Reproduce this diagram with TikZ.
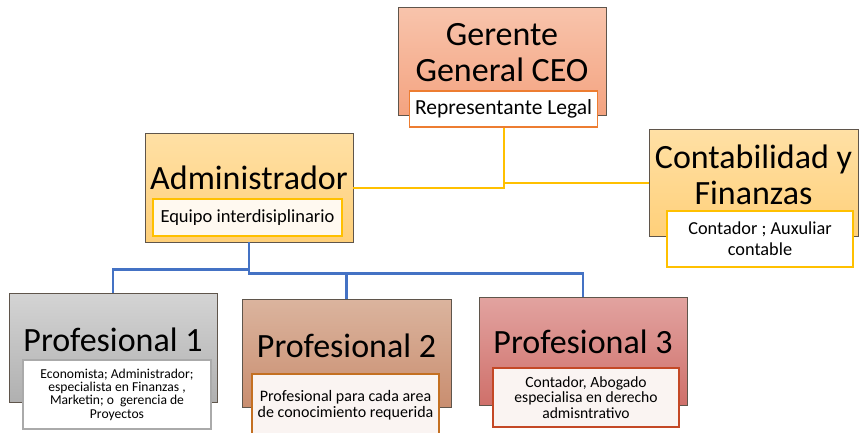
\documentclass[tikz,border=0pt]{standalone}
\usepackage{fontspec}
\setmainfont{Carlito}
\usetikzlibrary{calc}

\definecolor{boxline}{RGB}{95,85,75}
\definecolor{ceotop}{RGB}{248,196,172}
\definecolor{ceobot}{RGB}{244,163,128}
\definecolor{admtop}{RGB}{255,224,165}
\definecolor{admbot}{RGB}{255,208,122}
\definecolor{gristop}{RGB}{212,212,212}
\definecolor{gribot}{RGB}{176,176,176}
\definecolor{martop}{RGB}{219,180,158}
\definecolor{marbot}{RGB}{201,142,112}
\definecolor{rojtop}{RGB}{226,163,160}
\definecolor{rojbot}{RGB}{207,112,106}
\definecolor{linkyel}{RGB}{255,192,0}
\definecolor{linkblu}{RGB}{68,114,196}
\definecolor{tagorange}{RGB}{237,125,49}
\definecolor{taggray}{RGB}{170,170,170}
\definecolor{tagbrown}{RGB}{196,112,34}
\definecolor{tagred}{RGB}{196,72,38}
\definecolor{cream}{RGB}{255,249,240}
\definecolor{blush}{RGB}{250,244,242}

\begin{document}
\begin{tikzpicture}[x=1pt, y=-1pt]
\tikzstyle{box}=[draw=boxline, line width=0.8pt, inner sep=0pt]
\tikzstyle{tag}=[draw, line width=1.3pt, inner sep=0pt, align=center, text=black]
\tikzstyle{title}=[align=center, inner sep=0pt, font=\fontsize{34}{36}\selectfont]
\tikzstyle{yel}=[draw=linkyel, line width=2pt]
\tikzstyle{blu}=[draw=linkblu, line width=2.6pt]
\useasboundingbox (0,0) rectangle (859,432);

% cajas
\node[box, top color=ceotop, bottom color=ceobot, minimum width=208, minimum height=108] (ceo) at (502,61) {};
\node[box, top color=admtop, bottom color=admbot, minimum width=208, minimum height=109] (admin) at (249,187.5) {};
\node[box, top color=admtop, bottom color=admbot, minimum width=209, minimum height=107] (conta) at (753.5,182.5) {};
\node[box, top color=gristop, bottom color=gribot, minimum width=208, minimum height=109] (p1) at (113,347.5) {};
\node[box, top color=martop, bottom color=marbot, minimum width=209, minimum height=108] (p2) at (346.5,353) {};
\node[box, top color=rojtop, bottom color=rojbot, minimum width=208, minimum height=108] (p3) at (583,351) {};

% titulos
\node[title] (ceot) at (502,53) {Gerente\\General CEO};
\node[title] (admint) at (249,178) {Administrador};
\node[title] (contat) at (753.5,175) {Contabilidad y\\Finanzas};
\node[title] (p1t) at (113,340) {Profesional 1};
\node[title] (p2t) at (346.5,346) {Profesional 2};
\node[title] (p3t) at (583,342) {Profesional 3};

% etiquetas
\node[tag, draw=tagorange, fill=white, minimum width=188, minimum height=36, font=\fontsize{21.5}{23}\selectfont] (ceotag) at (503.5,109) {Representante Legal};
\node[tag, draw=linkyel, fill=cream, minimum width=189, minimum height=37, font=\fontsize{18.5}{20}\selectfont] (admintag) at (247.5,217.5) {Equipo interdisiplinario};
\node[tag, draw=linkyel, fill=white, minimum width=186, minimum height=56, font=\fontsize{18.3}{21}\selectfont] (contatag) at (760,239) {Contador ; Auxuliar\\contable};
\node[tag, draw=taggray, fill=white, minimum width=188, minimum height=69, font=\fontsize{13.6}{13.4}\selectfont] (p1tag) at (117,394.5) {Economista; Administrador;\\especialista en Finanzas ,\\Marketin; o\ \ gerencia de\\Proyectos};
\node[tag, draw=tagbrown, fill=blush, minimum width=187, minimum height=62, font=\fontsize{16}{15.5}\selectfont] (p2tag) at (345.5,405) {Profesional para cada area\\de conocimiento requerida};
\node[tag, draw=tagred, fill=blush, minimum width=186, minimum height=59, font=\fontsize{15.6}{15.8}\selectfont] (p3tag) at (586,397.5) {Contador, Abogado\\especialisa en derecho\\admisntrativo};

% conectores
\draw[yel] (ceotag.south) |- (admin.east);
\draw[yel] (ceotag.south |- conta.west) -- (conta.west);
\draw[blu] (admin.south) -- ++(0,27) -| (p1.north);
\draw[blu] (admin.south) -- ++(0,31) -| (p2.north);
\draw[blu] (admin.south) -- ++(0,31) -| (p3.north);
\end{tikzpicture}
\end{document}
